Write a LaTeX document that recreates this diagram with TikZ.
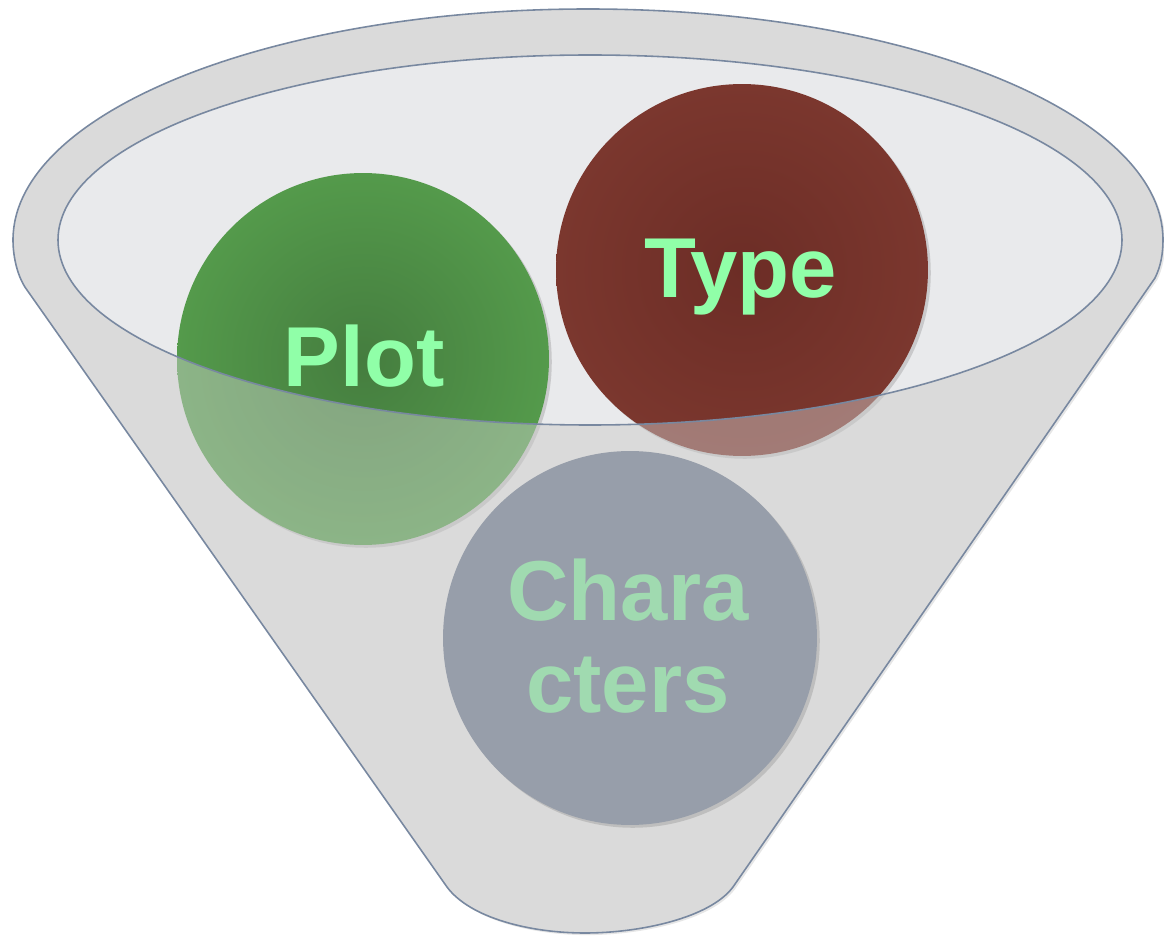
\documentclass[tikz,border=0pt]{standalone}
\usepackage{fontspec}
\newfontfamily\arialfont{Liberation Sans}
\usetikzlibrary{shadows}
\definecolor{rim}{HTML}{7888A0}
\definecolor{funnelgray}{HTML}{DADADA}
\definecolor{innergray}{HTML}{E9EAEC}
\definecolor{greenin}{HTML}{457D3F}
\definecolor{greenout}{HTML}{549A4B}
\definecolor{brownin}{HTML}{6C2D26}
\definecolor{brownout}{HTML}{7B372E}
\definecolor{slateball}{HTML}{979EAA}
\definecolor{brighttext}{HTML}{90FFA8}
\definecolor{paletext}{HTML}{A0DAB0}
\tikzset{
  funnelshape/.style={insert path={(13,698) .. controls (13,680) and (18,660) .. (27,648) -- (447,51) .. controls (470,20) and (530,5) .. (585,5) .. controls (640,5) and (710,20) .. (733,51) -- (1155,660) .. controls (1161,672) and (1163,685) .. (1163,698) arc[start angle=0,end angle=180,x radius=575,y radius=231] -- cycle}},
  rimline/.style={draw=rim, line width=0.9pt},
  ball/.style={circle, inner sep=0pt, minimum size=7.44cm,
    drop shadow={shadow xshift=1.6pt, shadow yshift=-1.6pt, opacity=0.3}},
  label/.style={font=\arialfont\bfseries\fontsize{48.4}{52}\selectfont, inner sep=0pt, anchor=base}
}
\begin{document}
\begin{tikzpicture}[x=0.02cm,y=0.02cm]
\useasboundingbox (0,0) rectangle (1164,938);
% funnel body
\path[fill=funnelgray, drop shadow={shadow xshift=1.2pt, shadow yshift=-1.2pt, opacity=0.2}, funnelshape];
\fill[innergray] (590,698) ellipse [x radius=532, y radius=185];
% back balls
\node[ball, inner color=greenin, outer color=greenout] (plotball) at (363,579) {};
\node[ball, inner color=brownin, outer color=brownout] (typeball) at (742,668) {};
% translucent front of funnel
\path[fill=funnelgray, fill opacity=0.42, even odd rule, funnelshape] (590,698) ellipse [x radius=532, y radius=185];
% outlines
\path[rimline, funnelshape];
\draw[rimline] (590,698) ellipse [x radius=532, y radius=185];
% front ball
\node[ball, fill=slateball, minimum size=7.48cm] (charball) at (630,300) {};
% texts
\node[label, text=brighttext] (plottext) at (364,551) {Plot};
\node[label, text=brighttext] (typetext) at (741,640) {Type};
\node[label, text=paletext] (chartext1) at (628,318) {Chara};
\node[label, text=paletext] (chartext2) at (628,226) {cters};
\end{tikzpicture}
\end{document}
